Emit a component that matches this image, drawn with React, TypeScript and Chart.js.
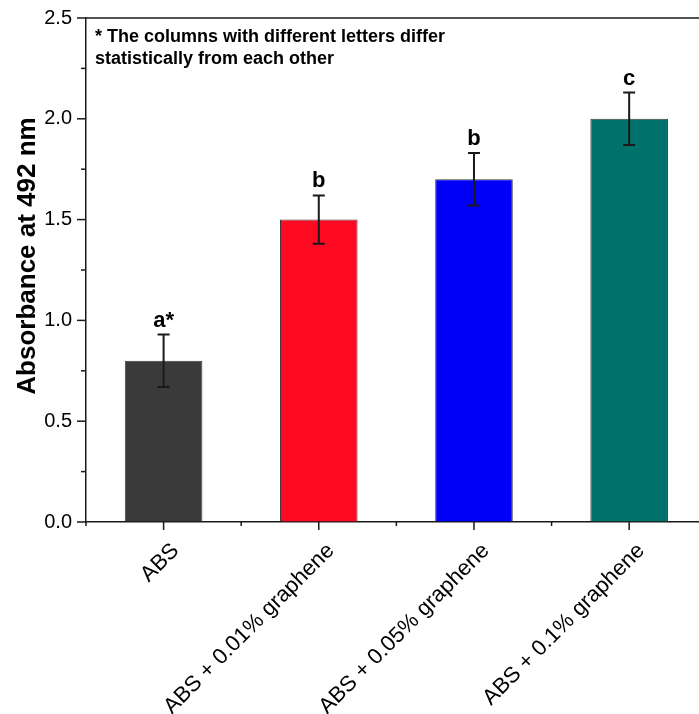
import React, { useEffect, useRef } from "react";
import { Chart, registerables } from "chart.js";

Chart.register(...registerables);

const categories = [
  "ABS",
  "ABS + 0.01% graphene",
  "ABS + 0.05% graphene",
  "ABS + 0.1% graphene",
];
const absorbance = [0.8, 1.5, 1.7, 2.0];
const errors = [0.13, 0.12, 0.13, 0.13];
const letters = ["a*", "b", "b", "c"];
const barColors = ["#3a3a3a", "#fd0a22", "#0000f8", "#00716b"];
const yTicks = [0, 0.5, 1.0, 1.5, 2.0, 2.5];
const yMinorTicks = [0.25, 0.75, 1.25, 1.75, 2.25];
const xMinorTicks = [-0.5, 0.5, 1.5, 2.5, 3.5];
const noteLines = [
  "* The columns with different letters differ",
  "statistically from each other",
];
const yTitle = "Absorbance at 492 nm";

const FONT = "'Liberation Sans', Arial, Helvetica, sans-serif";

const overlayPlugin = {
  id: "overlay",
  afterDatasetsDraw(chart: any) {
    const { ctx, scales } = chart;
    const x = scales.x;
    const y = scales.y;
    ctx.save();
    // error bars
    ctx.strokeStyle = "#1a1a1a";
    ctx.lineWidth = 2;
    absorbance.forEach((v, i) => {
      const px = x.getPixelForValue(i);
      const top = y.getPixelForValue(v + errors[i]);
      const bot = y.getPixelForValue(v - errors[i]);
      ctx.beginPath();
      ctx.moveTo(px, top);
      ctx.lineTo(px, bot);
      ctx.moveTo(px - 6, top);
      ctx.lineTo(px + 6, top);
      ctx.moveTo(px - 6, bot);
      ctx.lineTo(px + 6, bot);
      ctx.stroke();
    });
    // letters
    ctx.fillStyle = "#000";
    ctx.font = `bold 22px ${FONT}`;
    ctx.textAlign = "center";
    ctx.textBaseline = "alphabetic";
    letters.forEach((l, i) => {
      const px = x.getPixelForValue(i);
      const top = y.getPixelForValue(absorbance[i] + errors[i]);
      ctx.fillText(l, px, top - 8);
    });
    ctx.restore();
  },
  afterDraw(chart: any) {
    const { ctx, chartArea, scales } = chart;
    const x = scales.x;
    const y = scales.y;
    ctx.save();
    ctx.strokeStyle = "#1a1a1a";
    ctx.lineWidth = 1.5;
    const line = (x1: number, y1: number, x2: number, y2: number) => {
      ctx.beginPath();
      ctx.moveTo(x1, y1);
      ctx.lineTo(x2, y2);
      ctx.stroke();
    };
    // top frame line
    line(chartArea.left, chartArea.top, chartArea.right, chartArea.top);
    // y ticks
    yTicks.forEach((v) => {
      const py = y.getPixelForValue(v);
      line(chartArea.left - 9, py, chartArea.left, py);
    });
    yMinorTicks.forEach((v) => {
      const py = y.getPixelForValue(v);
      line(chartArea.left - 5, py, chartArea.left, py);
    });
    // x ticks
    categories.forEach((_, i) => {
      const px = x.getPixelForValue(i);
      line(px, chartArea.bottom, px, chartArea.bottom + 8);
    });
    xMinorTicks.forEach((v) => {
      const px = x.getPixelForValue(v);
      if (px <= chartArea.right) line(px, chartArea.bottom, px, chartArea.bottom + 4);
    });
    // y-axis title
    ctx.fillStyle = "#000";
    ctx.font = `bold 26px ${FONT}`;
    ctx.textAlign = "center";
    ctx.textBaseline = "middle";
    ctx.save();
    ctx.translate(chartArea.left - 58, (chartArea.top + chartArea.bottom) / 2 - 14);
    ctx.rotate(-Math.PI / 2);
    ctx.fillText(yTitle, 0, 0);
    ctx.restore();
    // note
    ctx.font = `bold 18px ${FONT}`;
    ctx.textAlign = "left";
    ctx.textBaseline = "alphabetic";
    noteLines.forEach((t, i) => {
      ctx.fillText(t, chartArea.left + 9, chartArea.top + 24 + i * 22);
    });
    ctx.restore();
  },
};

export default function App() {
  const canvasRef = useRef<HTMLCanvasElement | null>(null);

  useEffect(() => {
    document.body.style.margin = "0";
    const canvas = canvasRef.current;
    if (!canvas) return;
    const chart = new Chart(canvas, {
      type: "bar",
      data: {
        datasets: [
          {
            data: absorbance.map((v, i) => ({ x: i, y: v })),
            backgroundColor: barColors,
            borderColor: "#3c3c3c",
            borderWidth: 1,
            barPercentage: 0.5,
            categoryPercentage: 1,
          },
        ],
      },
      options: {
        responsive: false,
        animation: false,
        devicePixelRatio: 1,
        layout: { padding: { top: 18, right: 0, left: 0, bottom: 0 } },
        plugins: {
          legend: { display: false },
          tooltip: { enabled: false },
        },
        scales: {
          x: {
            type: "linear",
            min: -0.5,
            max: 3.45,
            offset: false,
            afterBuildTicks: (scale: any) => {
              scale.ticks = categories.map((_, i) => ({ value: i }));
            },
            afterFit: (scale: any) => {
              scale.height = 192;
            },
            grid: {
              offset: false,
              drawOnChartArea: false,
              drawTicks: true,
              tickLength: 8,
              tickColor: "rgba(0,0,0,0)",
            },
            border: { display: true, color: "#1a1a1a", width: 1.5 },
            ticks: {
              autoSkip: false,
              minRotation: 45,
              maxRotation: 45,
              padding: 8,
              labelOffset: 12,
              color: "#000",
              font: { family: FONT, size: 22 },
              callback: (v: any) => categories[Number(v)] ?? "",
            },
          },
          y: {
            min: 0,
            max: 2.5,
            afterFit: (scale: any) => {
              scale.width = 86;
            },
            grid: {
              drawOnChartArea: false,
              drawTicks: true,
              tickLength: 9,
              tickColor: "rgba(0,0,0,0)",
            },
            border: { display: true, color: "#1a1a1a", width: 1.5 },
            ticks: {
              stepSize: 0.5,
              padding: 5,
              color: "#000",
              font: { family: FONT, size: 20 },
              callback: (v: any) => Number(v).toFixed(1),
            },
            title: { display: false },
          },
        },
      },
      plugins: [overlayPlugin],
    });
    return () => chart.destroy();
  }, []);

  return (
    <div style={{ width: 699, height: 714 }}>
      <canvas ref={canvasRef} width={699} height={714} />
    </div>
  );
}
